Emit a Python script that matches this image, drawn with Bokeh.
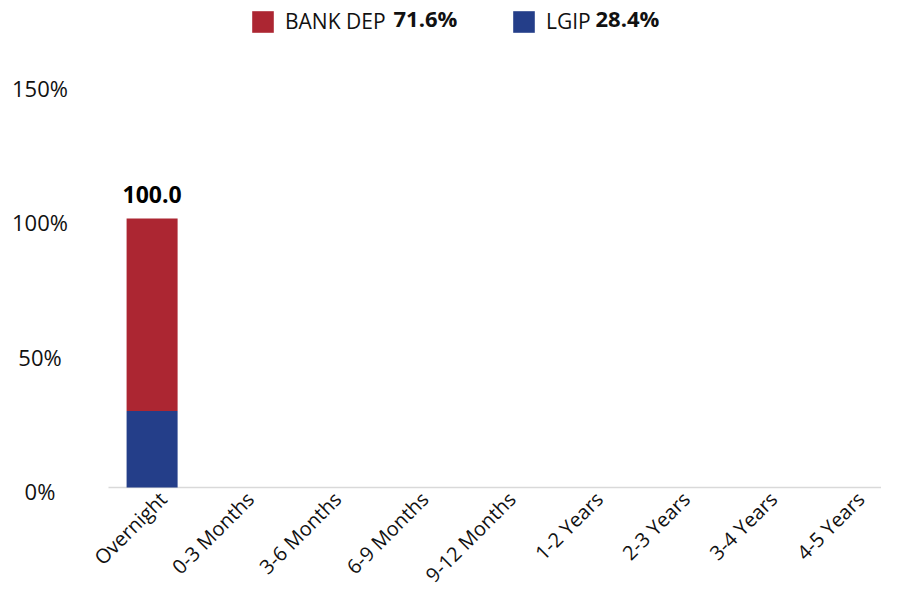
import math
from bokeh.plotting import figure
from bokeh.models import (ColumnDataSource, Legend, LegendItem, Label, Range1d)
from bokeh.core.properties import value
from bokeh.embed import file_html
from bokeh.resources import INLINE

categories = ["Overnight", "0-3 Months", "3-6 Months", "6-9 Months", "9-12 Months",
              "1-2 Years", "2-3 Years", "3-4 Years", "4-5 Years"]
lgip = [28.4, 0, 0, 0, 0, 0, 0, 0, 0]
bank_dep = [71.6, 0, 0, 0, 0, 0, 0, 0, 0]
y_ticks = [0, 50, 100, 150]
y_tick_labels = ["0%", "50%", "100%", "150%"]

RED = "#AC2632"
BLUE = "#243E89"
FONT = "Open Sans"
TXT = "#111111"

n = len(categories)
xpos = [i + 0.5 for i in range(n)]          # category centres on the x scale
totals = [a + b for a, b in zip(lgip, bank_dep)]
grand = sum(totals)
src = ColumnDataSource(dict(x=xpos, cat=categories, lgip=lgip, bank_dep=bank_dep,
                            total=totals, zero=[0] * n,
                            total_txt=[f"{t:.1f}" if t > 0 else "" for t in totals]))

FW, FH = 881, 589
p = figure(x_range=Range1d(-1.2385, 8.8647), y_range=Range1d(-37.92, 181.04),
           frame_width=FW, frame_height=FH,
           output_backend="svg", toolbar_location=None,
           min_border=0)
p.outline_line_color = None
p.xgrid.grid_line_color = None
p.ygrid.grid_line_color = None
p.background_fill_color = "white"
p.border_fill_color = "white"
p.xaxis.visible = False
p.yaxis.visible = False

# category axis line
p.segment(x0=[0], y0=[0], x1=[n], y1=[0], line_color="#D9D9D9", line_width=1.5,
          level="underlay")

rs = p.vbar_stack(["lgip", "bank_dep"], x="x", width=0.585, color=[BLUE, RED],
                  line_color=None, source=src)

# total labels
p.text(x="x", y="total", text="total_txt", source=src, text_align="center",
       text_baseline="alphabetic", y_offset=-24, text_font=value(FONT),
       text_font_size="23px", text_font_style="bold", text_color="#000000")

# category labels (rotated)
p.text(x="x", y="zero", text="cat", source=src, angle=math.pi / 4,
       text_align="right", text_baseline="middle", x_offset=11, y_offset=8,
       text_font=value(FONT), text_font_size="20px", text_color=TXT)

# value-axis tick labels
p.text(x=[-0.7856] * len(y_ticks), y=y_ticks, text=y_tick_labels, text_align="center",
       text_baseline="middle", y_offset=4, text_font=value(FONT),
       text_font_size="22px", text_color=TXT)

# legend (two single-item legends, bold share labels)
names = ["BANK DEP", "LGIP"]
renders = [rs[1], rs[0]]
shares = [sum(bank_dep) / grand * 100, sum(lgip) / grand * 100]
leg_x = [249, 510]
share_x = [393, 595]
for name, r, sh, lx, sx in zip(names, renders, shares, leg_x, share_x):
    lg = Legend(items=[LegendItem(label=name, renderers=[r])], location=(lx, 554),
                orientation="horizontal", padding=0, margin=0, spacing=0,
                glyph_width=27, glyph_height=27, label_height=27, label_standoff=9,
                border_line_color=None, background_fill_alpha=0,
                label_text_font=FONT, label_text_font_size="21px",
                label_text_color=TXT, label_text_baseline="middle")
    p.add_layout(lg, "center")
    p.add_layout(Label(x=sx, y=FH - 17, x_units="screen", y_units="screen",
                       text=f"{sh:.1f}%", text_font=FONT, text_font_size="22px",
                       text_font_style="bold", text_baseline="middle", text_color=TXT))

open("out.html", "w").write(file_html(p, INLINE))
